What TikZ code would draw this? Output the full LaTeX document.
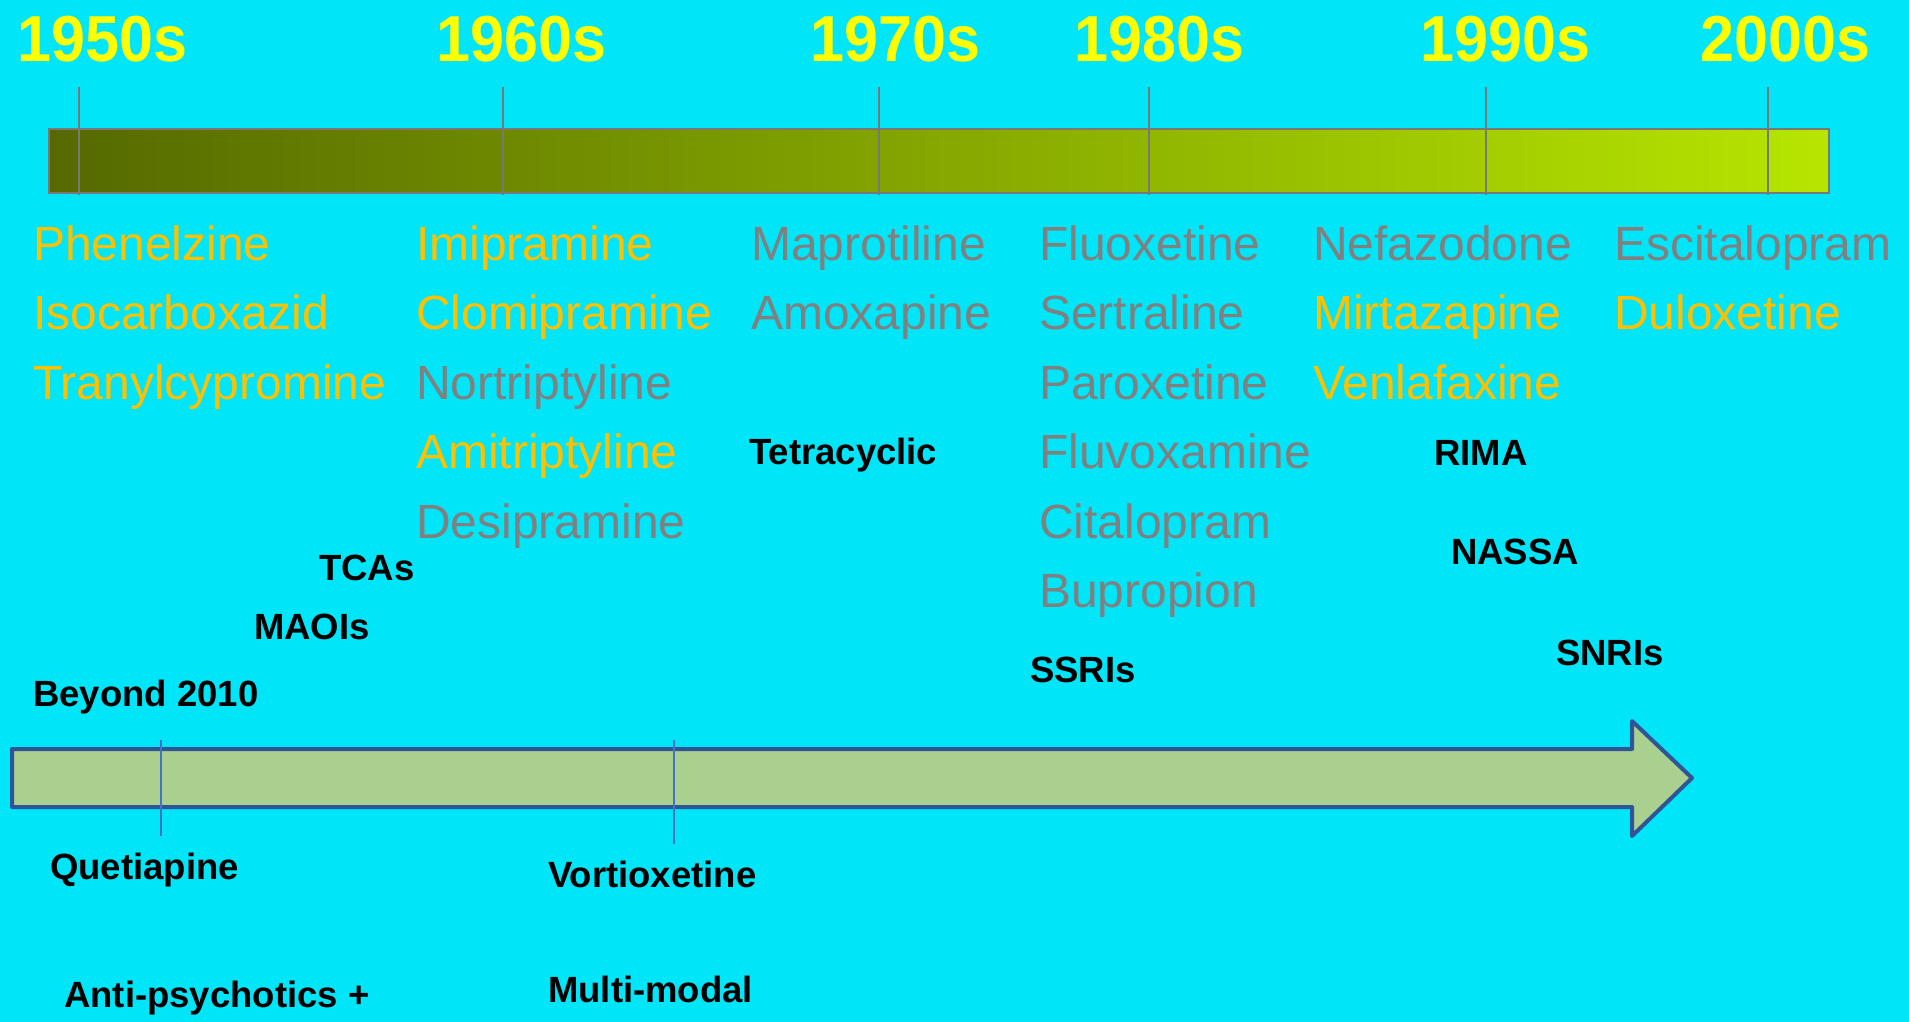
\documentclass[tikz,border=0pt]{standalone}
\usepackage{fontspec}
\usepackage{graphicx}
\setmainfont{Liberation Sans}
\definecolor{bg}{RGB}{0,230,248}
\definecolor{yearyellow}{RGB}{255,255,0}
\definecolor{drugorange}{RGB}{255,192,0}
\definecolor{druggray}{RGB}{128,128,128}
\definecolor{barL}{RGB}{85,105,0}
\definecolor{barR}{RGB}{182,230,0}
\definecolor{barline}{RGB}{120,120,120}
\definecolor{arrowgreen}{RGB}{169,208,142}
\definecolor{arrowblue}{RGB}{47,85,151}
\definecolor{tickblue}{RGB}{68,114,196}
\newcommand{\yeartxt}[1]{\scalebox{0.94}[1]{#1}}
\begin{document}
\begin{tikzpicture}[x=1pt,y=-1pt,
  yearlbl/.style={anchor=base west,inner sep=0pt,font=\fontsize{65}{65}\selectfont\bfseries,text=yearyellow},
  drugo/.style={anchor=base west,inner sep=0pt,font=\fontsize{48}{48}\selectfont,text=drugorange},
  drugg/.style={anchor=base west,inner sep=0pt,font=\fontsize{48}{48}\selectfont,text=druggray},
  classlbl/.style={anchor=base west,inner sep=0pt,font=\fontsize{36.5}{36.5}\selectfont\bfseries,text=black},
  toptick/.style={draw=barline,line width=2pt},
  bottick/.style={draw=tickblue,line width=1.5pt}]
\useasboundingbox (0,0) rectangle (1909,1022);
\fill[bg] (0,0) rectangle (1909,1022);

% top timeline bar
\shade[left color=barL,right color=barR] (49,129) rectangle (1829,193);
\draw[barline,line width=2pt] (49,129) rectangle (1829,193);
\foreach \tx in {79,503,879,1149,1486,1768}
  \draw[toptick] (\tx,87) -- (\tx,195);

% decade labels
\node[yearlbl] (y50) at (17,62) {\yeartxt{1950s}};
\node[yearlbl] (y60) at (436,62) {\yeartxt{1960s}};
\node[yearlbl] (y70) at (810,62) {\yeartxt{1970s}};
\node[yearlbl] (y80) at (1074,62) {\yeartxt{1980s}};
\node[yearlbl] (y90) at (1420,62) {\yeartxt{1990s}};
\node[yearlbl] (y00) at (1700,62) {\yeartxt{2000s}};

% column 1
\node[drugo] (phe) at (33,260) {Phenelzine};
\node[drugo] (iso) at (33,329.5) {Isocarboxazid};
\node[drugo] (tra) at (33,399) {Tranylcypromine};
% column 2
\node[drugo] (imi) at (416,260) {Imipramine};
\node[drugo] (clo) at (416,329.5) {Clomipramine};
\node[drugg] (nor) at (416,399) {Nortriptyline};
\node[drugo] (ami) at (416,468.5) {Amitriptyline};
\node[drugg] (des) at (416,538) {Desipramine};
% column 3
\node[drugg] (map) at (751,260) {Maprotiline};
\node[drugg] (amo) at (751,329.5) {Amoxapine};
% column 4
\node[drugg] (flu) at (1039,260) {Fluoxetine};
\node[drugg] (ser) at (1039,329.5) {Sertraline};
\node[drugg] (par) at (1039,399) {Paroxetine};
\node[drugg] (flv) at (1039,468.5) {Fluvoxamine};
\node[drugg] (cit) at (1039,538) {Citalopram};
\node[drugg] (bup) at (1039,607.5) {Bupropion};
% column 5
\node[drugg] (nef) at (1313,260) {Nefazodone};
\node[drugo] (mir) at (1313,329.5) {Mirtazapine};
\node[drugo] (ven) at (1313,399) {Venlafaxine};
% column 6
\node[drugg] (esc) at (1614,260) {Escitalopram};
\node[drugo] (dul) at (1614,329.5) {Duloxetine};

% class labels
\node[classlbl] (tet) at (749,464) {Tetracyclic};
\node[classlbl] (rima) at (1434,465) {RIMA};
\node[classlbl] (nassa) at (1451,564) {NASSA};
\node[classlbl] (snri) at (1556,665) {SNRIs};
\node[classlbl] (ssri) at (1030,682) {SSRIs};
\node[classlbl] (tca) at (319,580) {TCAs};
\node[classlbl] (maoi) at (254,639) {MAOIs};
\node[classlbl] (bey) at (33,706) {Beyond 2010};

% bottom arrow
\draw[line width=4pt,draw=arrowblue,fill=arrowgreen,line join=round]
  (12,749) -- (1632,749) -- (1632,721) -- (1692,778) -- (1632,836) -- (1632,807) -- (12,807) -- cycle;
\draw[bottick] (161,740) -- (161,836);
\draw[bottick] (674,740) -- (674,844);

\node[classlbl] (que) at (50,879) {Quetiapine};
\node[classlbl] (vor) at (548,887) {Vortioxetine};
\node[classlbl] (anti) at (64,1007) {Anti-psychotics +};
\node[classlbl] (multi) at (548,1002) {Multi-modal};
\end{tikzpicture}
\end{document}
